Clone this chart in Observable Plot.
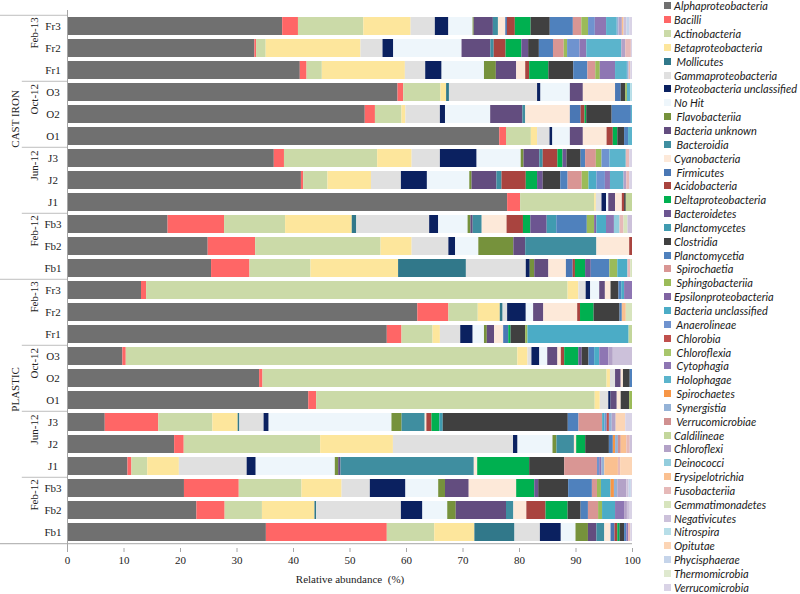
<!DOCTYPE html>
<html><head><meta charset="utf-8">
<script src="https://cdn.jsdelivr.net/npm/d3@7"></script>
<script src="https://cdn.jsdelivr.net/npm/@observablehq/plot@0.6"></script>
<style>
body{margin:0;background:#fff;}
#wrap{position:relative;width:800px;height:594px;overflow:hidden;}
#legend{position:absolute;left:664px;top:-1px;font-family:Lato,"Open Sans",sans-serif;font-style:italic;font-size:11px;color:#1a1a1a;}
.item{height:13.85px;display:flex;align-items:center;white-space:pre;}
.sw{width:7px;height:7px;margin-right:3px;flex:none;}
#chart svg, #chart svg text{font-family:'Liberation Serif','Times New Roman',serif !important;font-size:11px;white-space:pre;}
</style></head><body><div id="wrap"><div id="chart"></div><div id="legend"></div></div>
<script>
const taxa = ["Alphaproteobacteria","Bacilli","Actinobacteria","Betaproteobacteria","Mollicutes","Gammaproteobacteria","Proteobacteria unclassified","No Hit","Flavobacteriia","Bacteria unknown","Bacteroidia","Cyanobacteria","Firmicutes","Acidobacteria","Deltaproteobacteria","Bacteroidetes","Planctomycetes","Clostridia","Planctomycetia","Spirochaetia","Sphingobacteriia","Epsilonproteobacteria","Bacteria unclassified","Anaerolineae","Chlorobia","Chloroflexia","Cytophagia","Holophagae","Spirochaetes","Synergistia","Verrucomicrobiae","Caldilineae","Chloroflexi","Deinococci","Erysipelotrichia","Fusobacteriia","Gemmatimonadetes","Negativicutes","Nitrospira","Opitutae","Phycisphaerae","Thermomicrobia","Verrucomicrobia"];
const codes = ["Alp","Bcl","Act","Bet","Mol","Gam","PrU","NoH","Fla","BUk","Bdi","Cya","Fir","Aci","Del","Bdt","Plm","Clo","Pla","Spa","Sph","Eps","BUc","Ana","Chb","Cfa","Cyt","Hol","Spe","Syn","Vae","Cal","Cfi","Dei","Ery","Fus","Gem","Neg","Nit","Opi","Phy","The","Ver"];
const indented = ["Mollicutes","Flavobacteriia","Bacteroidia","Firmicutes","Spirochaetia","Sphingobacteriia","Anaerolineae","Chlorobia","Chloroflexia","Cytophagia","Holophagae","Spirochaetes","Synergistia","Verrucomicrobiae"];
const colors = ["#707070","#ff6666","#cbdaa8","#fde69c","#31788a","#e0e0e0","#0b2160","#eef6fb","#76923c","#634d7f","#3f8ea0","#fde9d9","#4a77b4","#a9443f","#00b050","#6c5591","#409bb0","#404040","#4f81bd","#d99694","#9bbb59","#8064a2","#4bacc6","#6f93cf","#c0504d","#a8c66c","#8e76b3","#5bb4cc","#f79646","#95b3d7","#d09090","#c3d69b","#b3a2c7","#93cddd","#fac090","#e6b9b8","#d7e4bd","#ccc1da","#b7dee8","#fcd5b5","#c5d4ea","#dfe9cf","#d9d3e6"];

const materials = ["CAST IRON","PLASTIC"];
const dates = ["Feb-13","Oct-12","Jun-12","Feb-12"];
const samplesByDate = [["Fr3","Fr2","Fr1"],["O3","O2","O1"],["J3","J2","J1"],["Fb3","Fb2","Fb1"]];

// Cast iron
const ciFr3 = [["Alp",38.2],["Bcl",2.8],["Act",11.6],["Bet",8.4],["Gam",4.3],["PrU",2.4],["NoH",4.3],["Fla",0.2],["BUk",3.4],["Bdi",0.9],["Cya",1.3],["Fir",0.3],["Aci",1.4],["Del",2.8],["Clo",3.4],["Pla",4.1],["Spa",1.5],["Sph",1.2],["Ana",1.2],["Cyt",2.0],["Hol",1.9],["Syn",0.3],["Cfi",0.6],["Ery",0.3],["Neg",0.5],["Phy",0.5],["Ver",0.5]];
const ciFr2 = [["Alp",33.2],["Bcl",0.3],["Act",1.7],["Bet",16.8],["Gam",3.9],["PrU",1.9],["NoH",12.1],["BUk",5.1],["Bdi",0.6],["Aci",2.1],["Del",2.8],["Bdt",1.2],["Clo",1.9],["Pla",2.5],["Spa",1.9],["Sph",0.6],["Ana",2.2],["Cyt",1.2],["Hol",6.2],["Cfi",0.7],["Fus",1.0],["Ver",0.2]];
const ciFr1 = [["Alp",41.2],["Bcl",1.2],["Act",2.7],["Bet",14.7],["Gam",3.6],["PrU",2.9],["NoH",7.5],["Fla",2.1],["BUk",3.6],["Cya",1.6],["Aci",0.7],["Del",3.4],["Clo",4.4],["Pla",2.5],["Spa",1.4],["Sph",0.8],["Cyt",2.7],["Hol",2.1],["Syn",0.3],["Fus",0.3],["Ver",0.3]];
const ciO3 = [["Alp",58.5],["Bcl",1.0],["Act",6.6],["Bet",1.0],["Mol",0.5],["Gam",15.6],["PrU",0.6],["NoH",5.2],["BUk",2.3],["Cya",5.7],["Fir",1.0],["Clo",0.8],["Sph",0.3],["Hol",0.6],["Nit",0.3]];
const ciO2 = [["Alp",52.7],["Bcl",1.8],["Act",4.7],["Bet",0.7],["Gam",6.1],["PrU",0.9],["NoH",8.0],["BUk",5.7],["Bdi",0.5],["Cya",7.9],["Fir",1.9],["Aci",0.7],["Del",0.3],["Clo",4.5],["Pla",3.4],["Hol",0.2]];
const ciO1 = [["Alp",76.5],["Bcl",1.2],["Act",4.4],["Bet",1.1],["Gam",2.2],["PrU",0.5],["NoH",3.1],["BUk",2.3],["Cya",4.2],["Aci",1.1],["Del",0.8],["Clo",1.2],["Pla",0.7],["Hol",0.7]];
const ciJ3 = [["Alp",36.6],["Bcl",1.8],["Act",16.5],["Bet",6.1],["Gam",5.0],["PrU",6.5],["NoH",7.8],["Fla",0.5],["BUk",2.8],["Bdi",0.6],["Aci",2.6],["Del",0.9],["Bdt",0.7],["Clo",2.5],["Pla",0.8],["Spa",1.9],["Sph",1.0],["Ana",1.4],["Hol",2.9],["Fus",0.6],["Ver",0.5]];
const ciJ2 = [["Alp",41.4],["Bcl",0.4],["Act",4.3],["Bet",7.7],["Gam",5.3],["PrU",4.6],["NoH",7.5],["Fla",0.4],["BUk",4.4],["Bdi",0.9],["Aci",4.3],["Del",2.0],["Bdt",1.0],["Clo",3.1],["Pla",1.3],["Spa",2.5],["Sph",1.2],["BUc",1.4],["Ana",1.5],["Cyt",0.9],["Hol",2.4],["Cfi",0.5],["Fus",0.5],["Ver",0.5]];
const ciJ1 = [["Alp",77.9],["Bcl",2.3],["Act",13.1],["Bet",0.3],["Gam",1.0],["PrU",0.8],["NoH",0.4],["BUk",1.2],["Cya",1.2],["Aci",0.4],["Clo",0.3],["Cal",1.1]];
const ciFb3 = [["Alp",17.8],["Bcl",10.0],["Act",10.8],["Bet",11.8],["Mol",0.8],["Gam",12.9],["PrU",1.6],["NoH",5.2],["Fla",0.5],["BUk",0.4],["Bdi",1.6],["Cya",4.4],["Aci",2.9],["Del",1.3],["Bdt",2.9],["Plm",1.7],["Pla",5.4],["Sph",1.3],["Eps",0.4],["BUc",1.7],["Cyt",1.4],["Dei",1.0],["Fus",0.7],["Gem",0.7],["Neg",0.8]];
const ciFb2 = [["Alp",24.9],["Bcl",8.4],["Act",22.2],["Bet",5.5],["Gam",6.5],["PrU",1.2],["NoH",4.1],["Fla",6.2],["BUk",2.1],["Bdi",12.6],["Cya",5.8],["Aci",0.5]];
const ciFb1 = [["Alp",25.5],["Bcl",6.8],["Act",10.8],["Bet",15.5],["Mol",12.0],["Gam",10.6],["PrU",0.7],["Fla",0.8],["BUk",2.5],["Cya",3.1],["Fir",1.2],["Aci",0.4],["Del",1.8],["Bdt",1.0],["Pla",3.3],["Sph",1.4],["BUc",1.8],["Fus",0.5],["Gem",0.3]];

// Plastic
const plFr3 = [["Alp",13.1],["Bcl",0.9],["Act",74.6],["Bet",1.9],["Gam",1.3],["PrU",0.8],["NoH",1.6],["BUk",1.0],["Cya",1.0],["Clo",1.4],["Pla",0.5],["BUc",0.5],["Cyt",1.4]];
const plFr2 = [["Alp",62.0],["Bcl",5.5],["Act",5.2],["Bet",3.9],["Mol",0.5],["Gam",0.8],["PrU",3.3],["NoH",1.3],["BUk",1.8],["Cya",6.0],["Aci",0.5],["Del",2.4],["Clo",4.6],["Pla",0.4],["Ery",0.7],["Gem",1.1]];
const plFr1 = [["Alp",56.6],["Bcl",2.6],["Act",5.5],["Bet",1.3],["Gam",3.6],["PrU",2.2],["NoH",2.0],["Fla",0.5],["BUk",1.3],["Cya",1.6],["Fir",0.9],["Del",0.4],["Clo",2.6],["Sph",0.4],["BUc",17.9],["Cal",0.6]];
const plO3 = [["Alp",9.8],["Bcl",0.6],["Act",69.3],["Bet",1.8],["Gam",0.7],["PrU",1.4],["NoH",1.4],["BUk",1.8],["Cya",0.6],["Aci",0.6],["Del",2.5],["Bdt",0.6],["Clo",1.2],["Pla",1.0],["BUc",0.9],["Cyt",1.6],["Cfi",0.8],["Neg",3.4]];
const plO2 = [["Alp",34.0],["Bcl",0.6],["Act",60.9],["Bet",0.6],["Gam",0.9],["BUk",1.0],["Cya",0.4],["Clo",1.2],["Pla",0.4]];
const plO1 = [["Alp",42.7],["Bcl",1.4],["Act",49.3],["Bet",0.9],["Gam",1.5],["PrU",0.4],["BUk",1.1],["Cya",0.7],["Clo",1.5],["Sph",0.5]];
const plJ3 = [["Alp",6.7],["Bcl",9.5],["Act",9.6],["Bet",4.5],["Mol",0.3],["Gam",4.3],["PrU",0.9],["NoH",21.8],["Fla",1.8],["Bdi",4.1],["Cya",0.3],["Aci",0.9],["Del",1.4],["Plm",0.6],["Clo",22.2],["Pla",1.9],["Spa",4.2],["BUc",0.4],["Ana",0.4],["Chb",0.4],["Syn",0.5],["Cfi",0.7],["Opi",1.7],["Ver",1.2]];
const plJ2 = [["Alp",19.0],["Bcl",1.7],["Act",24.2],["Bet",12.9],["Gam",21.3],["PrU",0.8],["NoH",6.2],["Fla",0.7],["Bdi",3.1],["Cya",0.4],["Del",1.6],["Clo",4.2],["Pla",0.7],["Spe",0.4],["Syn",0.5],["Vae",0.5],["Ery",1.0],["Fus",0.6],["Neg",0.4]];
const plJ1 = [["Alp",10.7],["Bcl",0.7],["Act",2.8],["Bet",5.6],["Gam",12.0],["PrU",1.6],["NoH",14.0],["Fla",0.6],["BUk",0.4],["Bdi",23.6],["Cya",0.6],["Del",9.2],["Clo",6.2],["Spa",5.8],["Ana",0.4],["Cyt",0.4],["Syn",0.5],["Ery",2.4],["Fus",0.4],["Opi",2.1]];
const plFb3 = [["Alp",20.7],["Bcl",9.7],["Act",11.1],["Bet",7.1],["Gam",5.0],["PrU",6.3],["NoH",5.8],["Fla",1.2],["BUk",4.2],["Cya",8.4],["Del",3.2],["Bdt",0.7],["Clo",5.3],["Pla",4.2],["Spa",0.9],["Sph",0.7],["BUc",1.7],["Spe",0.6],["Syn",0.6],["Cfi",1.6],["Neg",0.4],["Phy",0.4],["Ver",0.2]];
const plFb2 = [["Alp",22.9],["Bcl",5.0],["Act",6.6],["Bet",9.3],["Mol",0.3],["Gam",15.0],["PrU",3.8],["NoH",4.4],["Fla",1.5],["BUk",8.9],["Bdi",1.3],["Cya",2.3],["Aci",3.4],["Del",3.9],["Clo",2.3],["Pla",1.3],["Spa",1.8],["Sph",0.7],["BUc",2.3],["Cyt",1.6],["Cfi",0.5],["Neg",0.5],["Ver",0.4]];
const plFb1 = [["Alp",35.2],["Bcl",21.4],["Act",8.4],["Bet",7.1],["Mol",7.1],["Gam",4.5],["PrU",3.7],["NoH",2.6],["Fla",2.2],["BUk",1.5],["Bdi",1.4],["Cya",1.1],["Fir",0.7],["Aci",0.5],["Del",0.4],["Clo",0.8],["Pla",0.4],["Cyt",0.3],["Fus",0.4],["Ver",0.3]];

const castIron = [ciFr3,ciFr2,ciFr1,ciO3,ciO2,ciO1,ciJ3,ciJ2,ciJ1,ciFb3,ciFb2,ciFb1];
const plastic = [plFr3,plFr2,plFr1,plO3,plO2,plO1,plJ3,plJ2,plJ1,plFb3,plFb2,plFb1];

const keys = [], data = [], sampleRows = [], dateRows = [], matRows = [];
materials.forEach((m, mi) => {
  dates.forEach((dt, di) => {
    samplesByDate[di].forEach((s, si) => {
      const key = `${m}|${dt}|${s}`;
      keys.push(key);
      sampleRows.push({key, label: s});
      if (si === 1) dateRows.push({key, label: dt});
      if (di === 1 && si === 2) matRows.push({key, label: m});
      const pairs = (mi === 0 ? castIron : plastic)[di * 3 + si];
      const total = d3.sum(pairs, p => p[1]);
      const map = new Map(pairs);
      codes.forEach((c, ci) => {
        const v = map.get(c);
        if (v) data.push({key, taxon: taxa[ci], value: v * 100 / total});
      });
    });
  });
});

const marginTop = 10, marginBottom = 46, H = 594;
const step = (H - marginTop - marginBottom) / keys.length;
const leftEdge = -67 / 5.65; // x=0 px in % units
const dateBoundaries = [3, 6, 9, 15, 18, 21].map(i => keys[i]);
const matBoundaries = [0, 12].map(i => keys[i]);
const serif = "'Liberation Serif','Times New Roman',serif";

const plot = Plot.plot({
  width: 800, height: H,
  marginLeft: 67, marginRight: 168, marginTop, marginBottom,
  style: {fontFamily: serif, fontSize: "11px", color: "#222", background: "#fff"},
  x: {domain: [0, 100]},
  y: {domain: keys, paddingInner: 0.18, paddingOuter: 0.09, axis: null},
  color: {domain: taxa, range: colors},
  marks: [
    Plot.barX(data, Plot.stackX({x: "value", y: "key", fill: "taxon", order: null})),
    Plot.ruleX([0], {stroke: "#a6a6a6"}),
    Plot.ruleY(dateBoundaries, {y: d => d, dy: -step / 2, x1: -8, x2: 0, stroke: "#bfbfbf"}),
    Plot.ruleY(matBoundaries, {y: d => d, dy: -step / 2, x1: leftEdge, x2: 0, stroke: "#bfbfbf"}),
    Plot.ruleY([keys[keys.length - 1]], {y: d => d, dy: step / 2, x1: leftEdge, x2: 100, stroke: "#a6a6a6"}),
    Plot.axisX({ticks: d3.range(0, 101, 10), tickSize: 4, tickPadding: 4, label: null, fontSize: 11, stroke: "#a6a6a6", fill: "#222"}),
    Plot.text(sampleRows, {y: "key", text: "label", frameAnchor: "left", dx: -14.5, textAnchor: "middle", fontSize: 11, fill: "#222"}),
    Plot.text(dateRows, {y: "key", text: "label", frameAnchor: "left", dx: -33, rotate: -90, fontSize: 11, fill: "#222"}),
    Plot.text(matRows, {y: "key", text: "label", frameAnchor: "left", dx: -52, dy: step / 2, rotate: -90, fontSize: 11, fill: "#222"}),
    Plot.text(["Relative abundance  (%)"], {text: d => d, frameAnchor: "bottom", dy: 34, fontSize: 11, fill: "#222"})
  ]
});
document.getElementById("chart").appendChild(plot);

const legend = d3.select("#legend");
taxa.forEach((t, i) => {
  const row = legend.append("div").attr("class", "item");
  row.append("span").attr("class", "sw").style("background", colors[i]);
  row.append("span").text((indented.includes(t) ? " " : "") + t);
});
</script>
</body></html>
